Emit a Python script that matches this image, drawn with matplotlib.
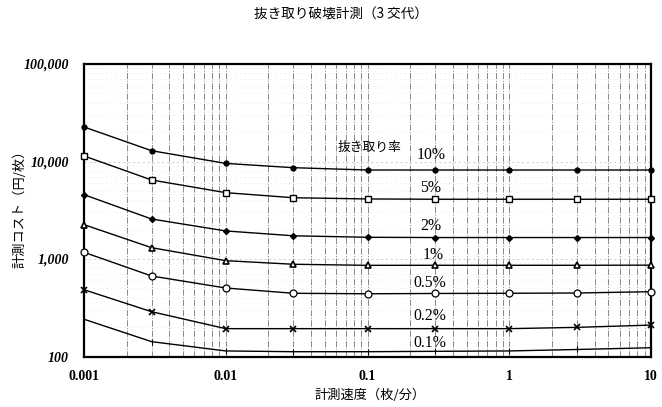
import matplotlib
matplotlib.use("Agg")
import matplotlib.pyplot as plt
from matplotlib.ticker import FixedLocator, LogLocator, NullFormatter

# ---- data ----
speeds = [0.001, 0.003, 0.01, 0.03, 0.1, 0.3, 1, 3, 10]
rates = ["10%", "5%", "2%", "1%", "0.5%", "0.2%", "0.1%"]
cost_10 = [22600, 12900, 9560, 8640, 8180, 8180, 8180, 8180, 8180]
cost_5 = [11400, 6460, 4790, 4250, 4130, 4100, 4100, 4100, 4100]
cost_2 = [4570, 2570, 1940, 1730, 1670, 1660, 1660, 1660, 1660]
cost_1 = [2250, 1306, 961, 883, 861, 862, 862, 862, 865]
cost_05 = [1172, 669, 504, 445, 440, 443, 445, 448, 462]
cost_02 = [484, 288, 193, 193, 193, 193, 193, 199, 210]
cost_01 = [241, 142, 114, 112, 112, 113, 114, 118, 123]
series = [cost_10, cost_5, cost_2, cost_1, cost_05, cost_02, cost_01]
label_x = [0.28, 0.28, 0.28, 0.29, 0.275, 0.275, 0.275]
label_y = [11660, 5310, 2180, 1100, 571, 262, 136]
y_ticks = [100, 1000, 10000, 100000]
y_ticklabels = ["100", "1,000", "10,000", "100,000"]
x_ticks = [0.001, 0.01, 0.1, 1, 10]
x_ticklabels = ["0.001", "0.01", "0.1", "1", "10"]

markers = [
    dict(marker="o", ms=3.5, mfc="black", mec="black"),
    dict(marker="s", ms=4.5, mfc="white", mec="black", mew=1.0),
    dict(marker="D", ms=3.0, mfc="black", mec="black"),
    dict(marker="^", ms=4.0, mfc="white", mec="black", mew=1.2),
    dict(marker="o", ms=5.0, mfc="white", mec="black", mew=0.9),
    dict(marker="x", ms=4.5, mfc="black", mec="black", mew=1.2),
    dict(marker="|", ms=4.0, mfc="black", mec="black", mew=0.8),
]

jp = ["Noto Sans CJK JP", "DejaVu Sans"]
serif = "Liberation Serif"

fig = plt.figure(figsize=(6.62, 4.07), dpi=100)
ax = fig.add_axes([84 / 662, 1 - 356.5 / 407, (651 - 84) / 662, (356.5 - 64) / 407])
ax.set_xscale("log")
ax.set_yscale("log")
ax.set_xlim(0.001, 10)
ax.set_ylim(100, 100000)

for vals, mk in zip(series, markers):
    ax.plot(speeds, vals, color="black", lw=1.0, clip_on=False, zorder=3, **mk)

ax.xaxis.set_major_locator(FixedLocator(x_ticks))
ax.xaxis.set_minor_locator(LogLocator(base=10, subs=range(2, 10)))
ax.xaxis.set_minor_formatter(NullFormatter())
ax.yaxis.set_major_locator(FixedLocator(y_ticks))
ax.yaxis.set_minor_locator(LogLocator(base=10, subs=range(2, 10)))
ax.yaxis.set_minor_formatter(NullFormatter())

ax.grid(True, axis="x", which="both", color="#888888", lw=0.7, ls="-.")
ax.grid(True, axis="y", which="major", color="#bbbbbb", lw=0.5, ls=(0, (3, 4)))
ax.grid(True, axis="y", which="minor", color="#dddddd", lw=0.4, ls=(0, (2, 6)))

ax.tick_params(which="both", length=0)
ax.set_yticklabels(y_ticklabels, fontfamily=serif, fontweight="bold",
                   fontstyle="italic", fontsize=10)
ax.set_xticklabels(x_ticklabels, fontfamily=serif, fontweight="bold", fontsize=10)
ax.tick_params(axis="y", pad=11)
ax.tick_params(axis="x", pad=10)

for sp in ax.spines.values():
    sp.set_linewidth(1.6)
    sp.set_color("black")

for lab, lx, ly in zip(rates, label_x, label_y):
    ax.text(lx, ly, lab, ha="center", va="center", fontfamily=serif, fontsize=11.3)
ax.text(0.104, 13800, "抜き取り率", ha="center", va="center", fontfamily=jp, fontsize=9.2)

fig.text(341 / 662, 1 - 15 / 407, "抜き取り破壊計測（3 交代）", ha="center", va="center",
         fontfamily=jp, fontsize=9.8, fontstyle="italic")
fig.text(370 / 662, 1 - 395 / 407, "計測速度（枚/分）", ha="center", va="center",
         fontfamily=jp, fontsize=9.5, fontstyle="italic")
fig.text(20 / 662, 1 - 206 / 407, "計測コスト（円/枚）", ha="center", va="center",
         rotation=90, fontfamily=jp, fontsize=9.5, fontstyle="italic")

fig.savefig("out.png", dpi=100)
